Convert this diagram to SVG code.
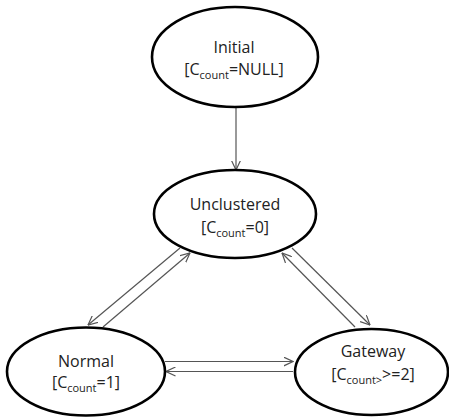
<svg xmlns="http://www.w3.org/2000/svg" width="449" height="419" viewBox="0 0 449 419">
  <defs>
    <marker id="arrow" viewBox="0 0 10 10" refX="9.5" refY="5" markerWidth="10" markerHeight="10" markerUnits="userSpaceOnUse" orient="auto">
      <path d="M0,0.5 L9.5,5 L0,9.5" fill="none" stroke="#555" stroke-width="1.2"/>
    </marker>
  </defs>
  <style>
    .state { fill: #fff; stroke: #000; stroke-width: 2.6; }
    .label { font-family: "Open Sans", "Noto Sans", sans-serif; font-size: 16px; fill: #222; text-anchor: middle; }
    .sub { font-size: 11px; }
    .edge { stroke: #555; stroke-width: 1.2; fill: none; marker-end: url(#arrow); }
  </style>
  <rect width="449" height="419" fill="#fff"/>

  <g id="connectors">
    <line class="edge" x1="236" y1="107" x2="236" y2="170"/>
    <line class="edge" x1="180" y1="248" x2="88" y2="325"/>
    <line class="edge" x1="103" y1="327" x2="190" y2="253"/>
    <line class="edge" x1="355" y1="327" x2="282" y2="253"/>
    <line class="edge" x1="292" y1="248" x2="370" y2="325"/>
    <line class="edge" x1="165" y1="361.5" x2="293" y2="361.5"/>
    <line class="edge" x1="293" y1="371.5" x2="166" y2="371.5"/>
  </g>

  <g id="initial">
    <ellipse class="state" cx="235" cy="57" rx="83" ry="50"/>
    <text class="label" x="234" y="53">Initial</text>
    <text class="label" x="234" y="75">[C<tspan class="sub" dy="4">count</tspan><tspan dy="-4">=NULL]</tspan></text>
  </g>

  <g id="unclustered">
    <ellipse class="state" cx="235" cy="214" rx="81" ry="44"/>
    <text class="label" x="235" y="210">Unclustered</text>
    <text class="label" x="235" y="233">[C<tspan class="sub" dy="4">count</tspan><tspan dy="-4">=0]</tspan></text>
  </g>

  <g id="normal">
    <ellipse class="state" cx="86" cy="371.5" rx="79" ry="44"/>
    <text class="label" x="86" y="367">Normal</text>
    <text class="label" x="86" y="388">[C<tspan class="sub" dy="4">count</tspan><tspan dy="-4">=1]</tspan></text>
  </g>

  <g id="gateway">
    <ellipse class="state" cx="371.5" cy="372" rx="76.5" ry="43"/>
    <text class="label" x="373" y="357">Gateway</text>
    <text class="label" x="373" y="380">[C<tspan class="sub" dy="4">count&gt;</tspan><tspan dy="-4">&gt;=2]</tspan></text>
  </g>
</svg>
